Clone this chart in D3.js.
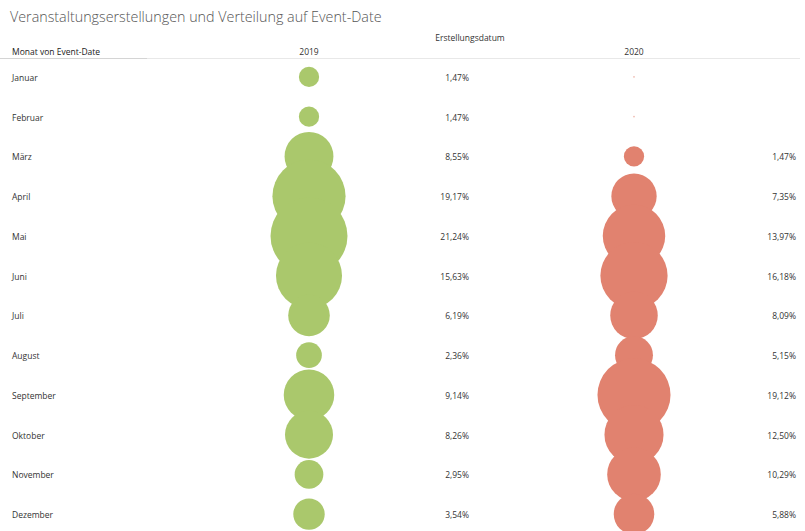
<!DOCTYPE html>
<html><head><meta charset="utf-8">
<script src="https://cdn.jsdelivr.net/npm/d3@7"></script>
<style>body{margin:0;background:#fff;}svg{display:block;}</style>
</head><body>
<script>
const months = ["Januar","Februar","März","April","Mai","Juni","Juli","August","September","Oktober","November","Dezember"];
const years = ["2019","2020"];
const values2019 = [1.47,1.47,8.55,19.17,21.24,15.63,6.19,2.36,9.14,8.26,2.95,3.54];
const values2020 = [null,null,1.47,7.35,13.97,16.18,8.09,5.15,19.12,12.50,10.29,5.88];
const colors = {"2019":"#aac86c","2020":"#e1826f"};

const W=805,H=531;
const svg=d3.select("body").append("svg").attr("width",W).attr("height",H);
const font="'Open Sans', sans-serif";

svg.append("text").attr("x",10).attr("y",22).text("Veranstaltungserstellungen und Verteilung auf Event-Date")
  .attr("font-family",font).attr("font-weight",300).attr("font-size",14.3).attr("fill","#555");

const y=d3.scaleBand().domain(months).range([57,534]);
const x=d3.scalePoint().domain(years).range([309,634]);
const labelX={"2019":469,"2020":796};
const r=d3.scaleSqrt().domain([0,21.24]).range([0,38.5]);

// header
svg.append("text").attr("x",470).attr("y",41).attr("text-anchor","middle").text("Erstellungsdatum")
  .attr("font-family",font).attr("font-size",8.5).attr("fill","#333");
svg.append("text").attr("x",12).attr("y",55).text("Monat von Event-Date")
  .attr("font-family",font).attr("font-size",8.5).attr("fill","#222");
years.forEach(yr=>{
  svg.append("text").attr("x",x(yr)).attr("y",55).attr("text-anchor","middle").text(yr)
    .attr("font-family",font).attr("font-size",8.5).attr("fill","#333");
});
svg.append("line").attr("x1",0).attr("x2",800).attr("y1",58.5).attr("y2",58.5).attr("stroke","#e8e8e8");
svg.append("line").attr("x1",0).attr("x2",147).attr("y1",58.5).attr("y2",58.5).attr("stroke","#d4d4d4");

// month labels
svg.selectAll("text.m").data(months).join("text").attr("class","m")
  .attr("x",12).attr("y",d=>y(d)+y.bandwidth()/2+4).text(d=>d)
  .attr("font-family",font).attr("font-size",8.5).attr("fill","#333");

const fmt=v=>v.toFixed(2).replace(".",",")+"%";
const series={"2019":values2019,"2020":values2020};
years.forEach(yr=>{
  const data=months.map((m,i)=>({m,v:series[yr][i]}));
  svg.append("g").selectAll("circle").data(data).join("circle")
    .attr("cx",x(yr)).attr("cy",d=>y(d.m)+y.bandwidth()/2)
    .attr("r",d=>d.v==null?0.8:r(d.v))
    .attr("fill",colors[yr]).attr("fill-opacity",d=>d.v==null?0.6:1);
  svg.append("g").selectAll("text").data(data.filter(d=>d.v!=null)).join("text")
    .attr("x",labelX[yr]).attr("y",d=>y(d.m)+y.bandwidth()/2+4).attr("text-anchor","end")
    .text(d=>fmt(d.v)).attr("font-family",font).attr("font-size",8.5).attr("fill","#333");
});
</script>
</body></html>
